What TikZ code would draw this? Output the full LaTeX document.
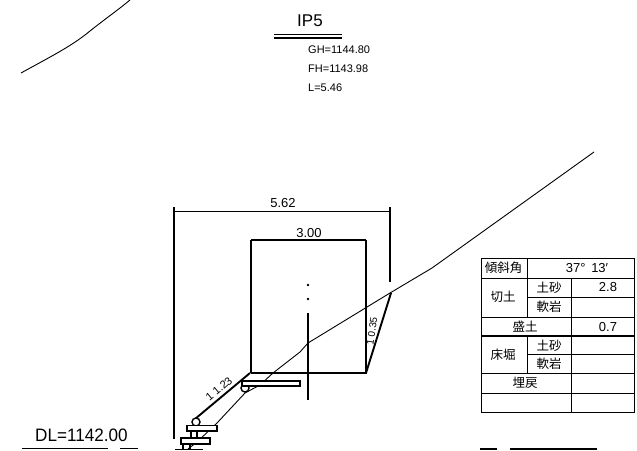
\documentclass[tikz,border=0pt]{standalone}
\usepackage{fontspec}
\setmainfont{Liberation Sans}
\newfontfamily\jp{Noto Sans CJK JP}
\tikzset{
  thin line/.style={line width=0.9pt,black},
  med line/.style={line width=1.2pt,black},
  thick line/.style={line width=1.9pt,black},
  lbl/.style={inner sep=0pt,font=\fontsize{13}{15}\selectfont},
  small lbl/.style={inner sep=0pt,font=\fontsize{11}{13}\selectfont},
  tiny lbl/.style={inner sep=0pt,font=\fontsize{10}{12}\selectfont},
  cell/.style={inner sep=0pt,font=\jp\fontsize{12.5}{14}\selectfont},
  num/.style={inner sep=0pt,font=\fontsize{13}{15}\selectfont},
  tier/.style={draw=black,line width=1.4pt,fill=white},
}
\begin{document}
\begin{tikzpicture}[x=1pt,y=-1pt]
\useasboundingbox (0,0) rectangle (637,450);
% ground lines
\draw[thin line] (21,73) .. controls (50,57) and (72,46) .. (90,31) .. controls (105,19) and (118,10) .. (130,0);
\draw[thin line] (594,152) -- (432,268) -- (390,293) -- (308,343) -- (300,352) -- (273,373) -- (260,385) -- (245,393) -- (217,423) -- (197,442) -- (188,449);
% IP5 header
\node[inner sep=0pt,font=\fontsize{17}{19}\selectfont] (ip) at (310,21) {IP5};
\draw[med line] (274,34.5) -- (342,34.5);
\draw[med line] (274,38) -- (342,38);
\node[small lbl,anchor=west] (gh) at (308,50) {GH=1144.80};
\node[small lbl,anchor=west] (fh) at (308,68.5) {FH=1143.98};
\node[small lbl,anchor=west] (ll) at (308,88) {L=5.46};
% dimensions
\draw[thin line] (174,211) -- (390,211);
\draw[med line] (174,207) -- (174,439);
\draw[med line] (390,207) -- (390,282);
\node[lbl] (d1) at (283,203) {5.62};
\node[lbl] (d2) at (309,233) {3.00};
% cross-section box
\draw[thick line] (251,373) -- (251,240);
\draw[thick line] (251,240) -- (366,240);
\draw[med line] (366,240) -- (366,373);
\draw[thick line] (251,373) -- (366,373) -- (391,293);
% centre line
\fill (308,285) circle (1.3);
\fill (308,299) circle (1.3);
\draw[med line] (308,313) -- (308,400);
% slopes
\draw[thick line] (250,373) -- (195,419);
\node[small lbl,rotate=40] (s1) at (219,389) {1 1.23};
\node[tiny lbl,rotate=82] (s2) at (372,331) {1 0.35};
% tiers
\draw[tier] (245,388) circle (4);
\draw[tier] (242,381) rectangle (300,386);
\draw[tier] (196,422) circle (4);
\draw[tier] (187,425.5) rectangle (217,431);
\draw[tier] (181,438) rectangle (210,444);
\draw[med line] (191,431) -- (191,438);
\draw[med line] (197,431) -- (197,438);
\draw[med line] (183,444) -- (183,449);
\draw[med line] (190,444) -- (190,449);
\draw[med line] (175,449.2) -- (203,449.2);
% DL
\node[inner sep=0pt,anchor=west,font=\fontsize{18}{20}\selectfont] (dl) at (35,435) {\scalebox{0.95}[1]{DL=1142.00}};
\draw[med line] (22,448.5) -- (108,448.5);
\draw[med line] (120,448.5) -- (138,448.5);
\draw[med line] (480,449) -- (497,449);
\draw[med line] (510,449) -- (597,449);
% table
\draw[thin line] (481,258) rectangle (634,412);
\draw[thin line] (481,278) -- (634,278);
\draw[thin line] (527,297) -- (634,297);
\draw[thin line] (481,317) -- (634,317);
\draw[med line] (481,336) -- (634,336);
\draw[thin line] (527,354) -- (634,354);
\draw[thin line] (481,373) -- (634,373);
\draw[thin line] (481,393) -- (634,393);
\draw[thin line] (527,258) -- (527,278);
\draw[thin line] (527,278) -- (527,317);
\draw[thin line] (527,336) -- (527,373);
\draw[thin line] (571,278) -- (571,412);
\node[cell] (t1) at (503.5,268) {傾斜角};
\node[num] (t2) at (587,268) {37° \,13′};
\node[cell] (t3) at (503,297) {切土};
\node[cell] (t4) at (549,287.5) {土砂};
\node[cell] (t5) at (549,307) {軟岩};
\node[num] (t6) at (608,287.5) {2.8};
\node[cell] (t7) at (525,327) {盛土};
\node[num] (t8) at (608,327) {0.7};
\node[cell] (t9) at (503,355) {床堀};
\node[cell] (t10) at (549,345.5) {土砂};
\node[cell] (t11) at (549,364) {軟岩};
\node[cell] (t12) at (525,383) {埋戻};
\end{tikzpicture}
\end{document}
